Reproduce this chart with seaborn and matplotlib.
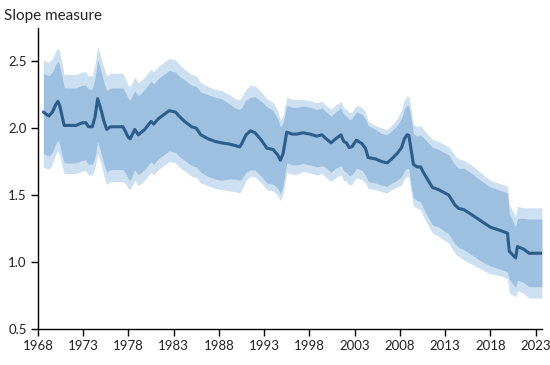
import numpy as np
import pandas as pd
import matplotlib
matplotlib.use("Agg")
import matplotlib.pyplot as plt
import seaborn as sns

# slope estimate
years = [1968.6, 1969.2, 1969.6, 1970.0, 1970.2, 1970.4, 1970.7, 1970.9, 1971.5, 1972.2,
         1972.9, 1973.3, 1973.6, 1974.0, 1974.3, 1974.6, 1975.0, 1975.3, 1975.6, 1976.0,
         1976.6, 1977.4, 1977.7, 1978.0, 1978.2, 1978.7, 1979.1, 1979.8, 1980.5, 1980.8,
         1981.3, 1981.9, 1982.5, 1983.2, 1983.6, 1984.2, 1985.0, 1985.5, 1986.0, 1986.8,
         1987.6, 1988.3, 1989.2, 1989.8, 1990.3, 1990.5, 1991.0, 1991.5, 1992.0, 1992.7,
         1993.3, 1994.0, 1994.5, 1994.8, 1995.1, 1995.5, 1996.1, 1996.6, 1997.3, 1998.1,
         1998.8, 1999.4, 1999.7, 2000.4, 2000.9, 2001.5, 2001.8, 2002.1, 2002.4, 2002.7,
         2003.2, 2003.8, 2004.2, 2004.5, 2005.3, 2006.0, 2006.6, 2007.1, 2007.7, 2008.2,
         2008.5, 2008.8, 2009.0, 2009.2, 2009.5, 2009.9, 2010.3, 2010.6, 2011.6, 2012.3,
         2013.4, 2014.1, 2014.5, 2015.1, 2015.8, 2016.9, 2018.0, 2018.9, 2019.9, 2020.1,
         2020.8, 2021.0, 2021.7, 2022.3, 2023.7]
slope = [2.12, 2.09, 2.12, 2.18, 2.20, 2.17, 2.08, 2.02, 2.02, 2.02,
         2.04, 2.04, 2.01, 2.01, 2.08, 2.22, 2.13, 2.05, 1.99, 2.01,
         2.01, 2.01, 1.97, 1.93, 1.92, 1.99, 1.95, 1.99, 2.05, 2.03,
         2.07, 2.10, 2.13, 2.12, 2.09, 2.05, 2.01, 2.00, 1.95, 1.92,
         1.90, 1.89, 1.88, 1.87, 1.86, 1.88, 1.95, 1.98, 1.965, 1.91,
         1.85, 1.84, 1.80, 1.76, 1.81, 1.97, 1.955, 1.955, 1.965, 1.955,
         1.94, 1.95, 1.93, 1.89, 1.92, 1.95, 1.90, 1.89, 1.855, 1.86,
         1.91, 1.885, 1.85, 1.78, 1.77, 1.75, 1.74, 1.77, 1.81, 1.855,
         1.92, 1.95, 1.945, 1.86, 1.73, 1.71, 1.71, 1.67, 1.557, 1.54,
         1.50, 1.425, 1.40, 1.39, 1.36, 1.31, 1.26, 1.24, 1.215, 1.08,
         1.03, 1.115, 1.095, 1.065, 1.065]

# distance from the line to the band edges
inner_up = [.29, .30, .30, .30, .30, .30, .29, .28, .28, .28,
            .28, .28, .28, .28, .29, .29, .29, .29, .29, .29,
            .29, .29, .29, .29, .29, .29, .29, .30, .30, .30,
            .30, .30, .30, .30, .30, .31, .31, .31, .32, .33,
            .33, .33, .30, .28, .28, .27, .26, .25, .27, .29,
            .31, .29, .27, .25, .23, .20, .20, .20, .20, .20,
            .20, .20, .20, .20, .20, .20, .20, .20, .21, .21,
            .21, .22, .22, .24, .22, .21, .21, .21, .21, .22,
            .22, .22, .22, .23, .23, .23, .24, .26, .30, .30,
            .30, .30, .30, .31, .31, .30, .30, .30, .30, .28,
            .23, .21, .23, .255, .255]
inner_dn = [.31, .30, .30, .29, .29, .29, .29, .28, .28, .28,
            .28, .28, .28, .28, .30, .32, .32, .32, .32, .32,
            .32, .32, .31, .31, .31, .30, .30, .30, .30, .30,
            .30, .30, .30, .30, .30, .29, .29, .29, .28, .28,
            .28, .28, .26, .25, .25, .26, .28, .29, .28, .27,
            .26, .26, .25, .25, .24, .23, .23, .23, .23, .23,
            .23, .23, .22, .22, .22, .23, .22, .22, .21, .21,
            .21, .20, .20, .18, .18, .175, .175, .18, .20, .22,
            .24, .25, .25, .27, .25, .25, .26, .27, .28, .28,
            .29, .29, .29, .30, .30, .30, .29, .29, .29, .21,
            .22, .25, .25, .25, .25]
outer_up = [.39, .40, .40, .40, .40, .40, .39, .38, .38, .38,
            .38, .38, .38, .38, .39, .39, .39, .40, .40, .40,
            .40, .40, .39, .39, .39, .39, .39, .39, .39, .39,
            .39, .39, .39, .39, .39, .39, .39, .39, .39, .39,
            .39, .39, .37, .35, .35, .35, .34, .34, .35, .36,
            .37, .35, .33, .30, .28, .26, .26, .26, .25, .25,
            .25, .25, .25, .25, .25, .25, .25, .25, .26, .26,
            .26, .27, .27, .27, .25, .25, .25, .25, .26, .28,
            .29, .29, .29, .30, .30, .30, .31, .32, .36, .36,
            .36, .37, .37, .37, .37, .36, .35, .35, .35, .35,
            .31, .30, .31, .34, .34]
outer_dn = [.41, .40, .39, .37, .37, .37, .37, .36, .36, .36,
            .36, .36, .36, .36, .38, .41, .40, .41, .41, .41,
            .41, .41, .39, .38, .38, .38, .38, .38, .38, .38,
            .38, .38, .38, .38, .38, .37, .37, .37, .36, .35,
            .35, .35, .35, .345, .345, .345, .34, .34, .33, .32,
            .31, .31, .30, .30, .30, .30, .30, .30, .29, .29,
            .29, .29, .29, .29, .29, .30, .29, .29, .28, .28,
            .28, .27, .26, .23, .23, .225, .225, .23, .25, .28,
            .30, .31, .31, .32, .31, .31, .32, .33, .34, .35,
            .36, .36, .36, .375, .37, .36, .35, .34, .34, .31,
            .29, .33, .33, .335, .335]

xticks = list(range(1968, 2024, 5))
yticks = [0.5, 1.0, 1.5, 2.0, 2.5]

line_col = "#2b5c8a"
inner_col = "#9dbfe0"
outer_col = "#cde0f1"

df = pd.DataFrame({"year": years, "slope": slope})
mid = np.array(slope)

sns.set_style("ticks")
plt.rcParams["font.family"] = ["Lato", "DejaVu Sans"]

fig = plt.figure(figsize=(5.5, 3.65), dpi=100)
ax = fig.add_axes([0.069, 0.099, 0.917, 0.825])

ax.fill_between(years, mid - np.array(outer_dn), mid + np.array(outer_up),
                color=outer_col, linewidth=0)
ax.fill_between(years, mid - np.array(inner_dn), mid + np.array(inner_up),
                color=inner_col, linewidth=0)
sns.lineplot(data=df, x="year", y="slope", ax=ax, color=line_col, linewidth=2.2)

ax.set_xlim(1968, 2023.75)
ax.set_ylim(0.5, 2.75)
ax.set_xticks(xticks)
ax.set_yticks(yticks)
ax.set_yticklabels([f"{v:.1f}" for v in yticks])
ax.set_xlabel("")
ax.set_ylabel("")
ax.tick_params(axis="both", direction="out", length=5, width=1, color="black",
               labelsize=9.5, labelcolor="#222222", pad=3)
sns.despine(ax=ax)
for s in ["left", "bottom"]:
    ax.spines[s].set_color("black")
    ax.spines[s].set_linewidth(1)

fig.text(0.007, 0.955, "Slope measure", fontsize=11, color="#222222",
         ha="left", va="center")

fig.savefig("out.png", dpi=100, facecolor="white")
